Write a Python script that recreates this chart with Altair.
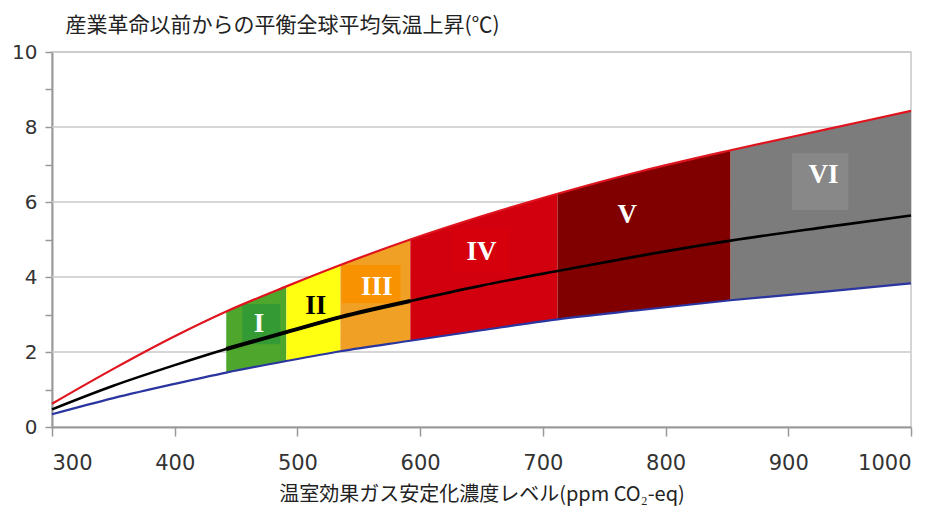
import altair as alt
import pandas as pd

# CO2-eq stabilisation level (ppm) and warmth
co2 = [300, 350, 400, 442, 491, 535, 592, 650, 712, 780, 853, 930, 1000]
upper = [0.62, 1.55, 2.42, 3.08, 3.75, 4.32, 5.0, 5.62, 6.22, 6.82, 7.38, 7.93, 8.43]
central = [0.47, 1.1, 1.65, 2.08, 2.53, 2.93, 3.36, 3.77, 4.16, 4.57, 4.97, 5.33, 5.64]
lower = [0.34, 0.77, 1.15, 1.45, 1.76, 2.02, 2.3, 2.58, 2.87, 3.12, 3.38, 3.61, 3.83]

# categories
cat_names = ["I", "II", "III", "IV", "V", "VI"]
cat_start = [442, 491, 535, 592, 712, 853]
cat_end = [491, 535, 592, 712, 853, 1000]
cat_colors = ["#4ea72c", "#ffff12", "#f0a024", "#d2000f", "#800000", "#7c7c7c"]
label_x = [468.7, 515, 564.6, 650, 768.7, 928.6]
label_y = [2.74, 3.23, 3.74, 4.67, 5.66, 6.72]
label_color = ["white", "black", "white", "white", "white", "white"]

# label boxes
box_x1 = [455, 536, 627, 903]
box_x2 = [486, 584, 673, 949]
box_y1 = [2.21, 3.3, 4.1, 5.79]
box_y2 = [3.28, 4.32, 5.34, 7.3]
box_color = ["#349a34", "#f89200", "#d5000c", "#888888"]

# range where the central line is drawn heavier
thick_from, thick_to = 442, 592

xticks = [300, 400, 500, 600, 700, 800, 900, 1000]
yticks = [0, 1, 2, 3, 4, 5, 6, 7, 8, 9, 10]
ygrid = [2, 4, 6, 8, 10]

y_title = "産業革命以前からの平衡全球平均気温上昇(℃)"
x_title = "温室効果ガス安定化濃度レベル(ppm CO₂-eq)"

curves = pd.DataFrame({"co2": co2, "upper": upper, "central": central, "lower": lower})

band_rows = []
for n, s, e in zip(cat_names, cat_start, cat_end):
    for c, u, lo in zip(co2, upper, lower):
        if s <= c <= e:
            band_rows.append({"co2": c, "upper": u, "lower": lo, "cat": n})
bands = pd.DataFrame(band_rows)

labels = pd.DataFrame({"co2": label_x, "t": label_y, "name": cat_names, "col": label_color})
boxes = pd.DataFrame({"x1": box_x1, "x2": box_x2, "y1": box_y1, "y2": box_y2, "col": box_color})
grid = pd.DataFrame({"g": ygrid})

xscale = alt.Scale(domain=[300, 1000], nice=False)
yscale = alt.Scale(domain=[0, 10], nice=False)

x_axis = alt.Axis(
    values=xticks, format="d", grid=False, tickSize=9, tickColor="#999999", tickWidth=1.5,
    domainColor="#999999", domainWidth=2, labelPadding=16,
    labelFont="DejaVu Sans", labelFontSize=21, labelColor="#333333",
    title=x_title, titleFont="Noto Sans CJK JP", titleFontSize=20,
    titleFontWeight="normal", titleColor="#222222", titleY=67, titleBaseline="middle",
)
y_axis = alt.Axis(
    values=yticks, grid=False, tickSize=7, tickColor="#999999", tickWidth=1.5,
    domainColor="#999999", domainWidth=2, labelPadding=8,
    labelFont="DejaVu Sans", labelFontSize=20, labelColor="#333333",
    labelExpr="datum.value % 2 === 0 ? datum.label : ''",
    title=y_title, titleFont="Noto Sans CJK JP", titleFontSize=21,
    titleFontWeight="normal", titleColor="#222222", titleAngle=0,
    titleAlign="left", titleX=13, titleY=-27, titleBaseline="middle",
)

gridlayer = alt.Chart(grid).mark_rule(color="#c8c8c8", strokeWidth=1.5).encode(
    y=alt.Y("g:Q", scale=yscale, axis=y_axis)
)

area = alt.Chart(bands).mark_area(interpolate="monotone").encode(
    x=alt.X("co2:Q", scale=xscale, axis=x_axis),
    y=alt.Y("lower:Q", scale=yscale, axis=y_axis),
    y2="upper:Q",
    color=alt.Color("cat:N", scale=alt.Scale(domain=cat_names, range=cat_colors), legend=None),
)

boxlayer = alt.Chart(boxes).mark_rect().encode(
    x=alt.X("x1:Q", scale=xscale, axis=x_axis), x2="x2:Q",
    y=alt.Y("y1:Q", scale=yscale, axis=y_axis), y2="y2:Q",
    color=alt.Color("col:N", scale=None),
)

text = alt.Chart(labels).mark_text(
    font="Liberation Serif", fontSize=27, fontWeight="bold", baseline="middle", align="center"
).encode(
    x=alt.X("co2:Q", scale=xscale, axis=x_axis),
    y=alt.Y("t:Q", scale=yscale, axis=y_axis),
    text="name:N",
    color=alt.Color("col:N", scale=None),
)

def curve(field, color, width):
    return alt.Chart(curves).mark_line(color=color, strokeWidth=width, interpolate="monotone").encode(
        x=alt.X("co2:Q", scale=xscale, axis=x_axis),
        y=alt.Y(f"{field}:Q", scale=yscale, axis=y_axis),
    )

thick = curve("central", "#000000", 4).transform_filter(
    (alt.datum.co2 >= thick_from) & (alt.datum.co2 <= thick_to)
)

chart = alt.layer(
    gridlayer, area, boxlayer, text,
    curve("lower", "#2a35a0", 2.2),
    curve("upper", "#e0141e", 2.2),
    curve("central", "#000000", 2.6),
    thick,
).properties(
    width=859, height=375,
    padding={"left": 44, "top": 44, "right": 14, "bottom": 79},
    autosize=alt.AutoSizeParams(type="none"),
).configure_view(stroke="#c8c8c8", strokeWidth=1.5)

chart.save("out.html", embed_options={"renderer": "svg", "actions": False})
